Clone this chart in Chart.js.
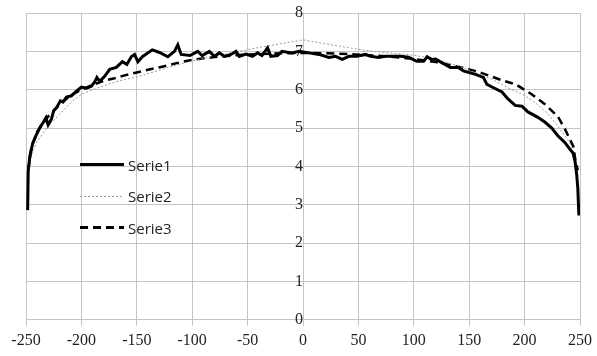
<!DOCTYPE html>
<html>
<head>
<meta charset="utf-8">
<script src="https://cdn.jsdelivr.net/npm/chart.js@4.4.1/dist/chart.umd.min.js"></script>
<style>
  html, body { margin: 0; padding: 0; background: #fff; }
  #wrap { width: 597px; height: 356px; position: relative; }
  #legend { position: absolute; left: 80px; top: 149px; font: 15px "Open Sans", sans-serif; color: #222; }
  .row { display: flex; align-items: center; height: 31.5px; }
  .swatch { width: 44px; margin-right: 4px; }
  .s1 { height: 3px; background: #000; }
  .s2 { height: 1px; background: repeating-linear-gradient(90deg, #9a9a9a 0 2px, transparent 2px 4px); }
  .s3 { height: 3px; background: repeating-linear-gradient(90deg, #000 0 8px, transparent 8px 13px); }
</style>
</head>
<body>
<div id="wrap">
  <canvas id="chart" width="597" height="356"></canvas>
  <div id="legend"></div>
</div>
<script>
// values
const xTicks = [-250, 250, 50];
const yTicks = [0, 8, 1];

const serie1X = [-248.5, -248, -246.5, -244, -241, -237, -235, -232, -230, -227, -225, -222, -219, -216.5,
  -213.5, -209, -204.5, -200, -195.5, -191, -188, -186, -183.5, -179, -174.5, -168.5, -163, -159, -155,
  -152, -149, -145, -136, -129.5, -122, -116, -113, -110, -102, -95, -91, -84.5, -80, -75.5, -71, -65,
  -60.5, -57.5, -51.5, -45.5, -41, -37, -32, -29, -23, -19, -10, -3.5, 5.4, 14.4, 23.4, 29.4, 35.4, 41.4,
  48.6, 56.4, 61, 68.3, 74.4, 82, 88, 95.3, 102.6, 108.8, 112, 116, 119.6, 125.6, 133, 140, 144.8, 155.6,
  162.8, 166, 170.6, 179.6, 185, 191.5, 197.6, 203, 212, 218.5, 224.5, 230, 236.5, 240.8, 243.7, 245.5,
  247, 248, 249];
const serie1Y = [2.86, 3.88, 4.27, 4.6, 4.8, 5.04, 5.12, 5.27, 5.08, 5.24, 5.45, 5.55, 5.71, 5.68,
  5.81, 5.84, 5.96, 6.07, 6.04, 6.09, 6.2, 6.32, 6.22, 6.35, 6.53, 6.58, 6.73, 6.66, 6.86,
  6.92, 6.73, 6.86, 7.04, 6.97, 6.86, 7.0, 7.17, 6.92, 6.89, 7.0, 6.89, 7.0, 6.87, 6.96, 6.87, 6.92,
  7.0, 6.87, 6.93, 6.87, 6.96, 6.89, 7.09, 6.87, 6.89, 7.0, 6.96, 7.0, 6.96, 6.92, 6.84, 6.87, 6.79, 6.87,
  6.87, 6.92, 6.87, 6.84, 6.87, 6.87, 6.87, 6.85, 6.74, 6.74, 6.86, 6.79, 6.8, 6.7, 6.58, 6.58, 6.49, 6.4,
  6.32, 6.14, 6.07, 5.94, 5.76, 5.59, 5.57, 5.42, 5.28, 5.15, 5.0, 4.8, 4.62, 4.45, 4.35, 4.14,
  3.79, 3.44, 2.72];

const serie2X = [-249, -247, -245, -240, -230, -220, -210, -200, -190, -180, -170, -160, -150, -140, -130,
  -120, -100, -80, -60, -40, -20, 0, 20, 40, 55, 70, 100, 120, 140, 155, 170, 185, 200, 210, 220, 230,
  240, 245, 248];
const serie2Y = [3.6, 4.1, 4.3, 4.65, 5.05, 5.35, 5.65, 5.88, 6.0, 6.1, 6.2, 6.27, 6.33, 6.42, 6.5,
  6.6, 6.75, 6.87, 6.99, 7.1, 7.2, 7.3, 7.2, 7.1, 7.03, 6.98, 6.9, 6.8, 6.62, 6.45, 6.28, 6.05, 5.85,
  5.65, 5.4, 5.05, 4.65, 4.3, 3.7];

const serie3X = [-248, -245, -240, -230, -220, -210, -200, -190, -180, -170, -160, -150, -140, -130, -120,
  -110, -100, -80, -60, -40, -20, 0, 20, 40, 60, 80, 100, 120, 140, 160, 179, 192, 206, 218, 230, 237,
  244, 246, 248];
const serie3Y = [3.9, 4.5, 4.9, 5.3, 5.6, 5.85, 6.0, 6.12, 6.23, 6.3, 6.38, 6.45, 6.52, 6.58, 6.65,
  6.72, 6.78, 6.85, 6.9, 6.93, 6.95, 6.96, 6.95, 6.93, 6.9, 6.86, 6.8, 6.72, 6.6, 6.45, 6.25, 6.14, 5.89,
  5.63, 5.3, 4.94, 4.52, 4.14, 3.9];

const serieNames = ['Serie1', 'Serie2', 'Serie3'];

function points(xs, ys) {
  return xs.map((x, i) => ({ x: x, y: ys[i] }));
}

const serifFamily = 'Liberation Serif, Times New Roman, serif';
const gridColor = '#c4c4c4';

// set the look globally too, so the scales pick it up whatever happens to their own options
Chart.defaults.font.family = serifFamily;
Chart.defaults.font.size = 16;
Chart.defaults.color = '#222';
Chart.defaults.borderColor = gridColor;
Chart.defaults.scale.ticks.callback = function (v) {
  // centred y axis draws labels flush with the line, so push them left a bit
  return this.axis === 'y' ? v + '\u2002\u2002' : String(v);
};

// html legend sitting inside the plot area
const legendEl = document.getElementById('legend');
serieNames.forEach((name, i) => {
  const row = document.createElement('div');
  row.className = 'row';
  row.innerHTML = '<div class="swatch s' + (i + 1) + '"></div><span>' + name + '</span>';
  legendEl.appendChild(row);
});

const chart = new Chart(document.getElementById('chart'), {
  type: 'line',
  data: {
    datasets: [{
      label: serieNames[0],
      data: points(serie1X, serie1Y),
      borderColor: '#000',
      borderWidth: 3,
      pointRadius: 0
    }, {
      label: serieNames[1],
      data: points(serie2X, serie2Y),
      borderColor: '#9a9a9a',
      borderWidth: 1,
      borderDash: [2, 2],
      pointRadius: 0
    }, {
      label: serieNames[2],
      data: points(serie3X, serie3Y),
      borderColor: '#000',
      borderWidth: 2.5,
      borderDash: [8, 5],
      pointRadius: 0
    }]
  },
  options: {
    responsive: false,
    animation: false,
    layout: { padding: { left: 26, right: 15, top: 13, bottom: 1 } },
    plugins: {
      legend: { display: false },
      tooltip: { enabled: false }
    },
    scales: {
      x: {
        type: 'linear',
        min: xTicks[0],
        max: xTicks[1],
        ticks: { stepSize: xTicks[2], padding: 5 },
        grid: { tickLength: 6 }
      },
      y: {
        type: 'linear',
        position: { x: 0 },
        min: yTicks[0],
        max: yTicks[1],
        ticks: { stepSize: yTicks[2] },
        grid: { tickLength: 8 }
      }
    }
  }
});
</script>
</body>
</html>
